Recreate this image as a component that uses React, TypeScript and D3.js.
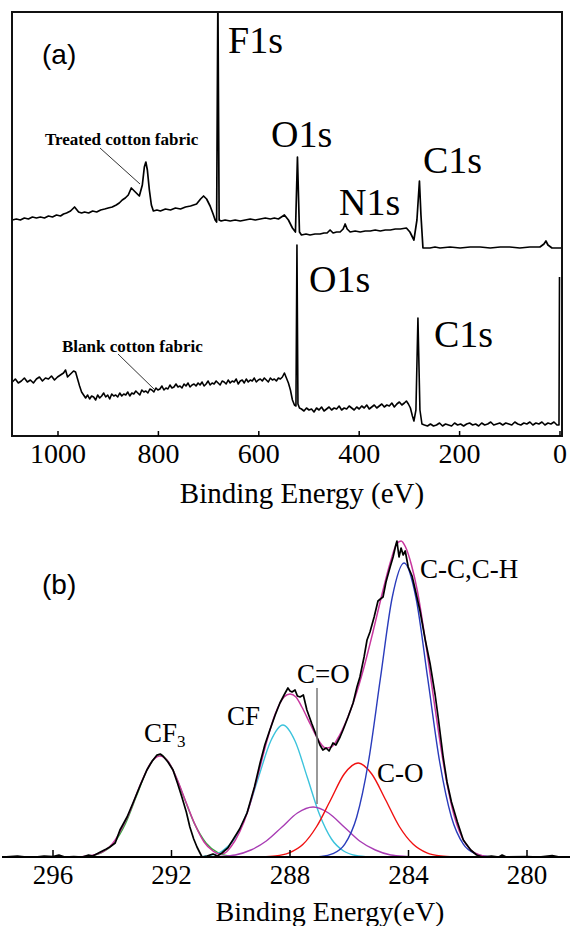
import React from "react";
import * as d3 from "d3";

// survey spectra, [binding energy eV, intensity a.u.]
const treatedSurvey: [number, number][] = [
  [1091, 216], [1083, 217], [1075, 216], [1067, 218], [1059, 217], [1051, 219], [1043, 218],
  [1035, 219], [1027, 218], [1019, 220], [1011, 219], [1003, 221], [995, 220], [989, 222],
  [983, 223], [975, 225], [967, 229], [959, 224], [953, 223], [947, 224], [939, 223],
  [931, 225], [923, 224], [915, 226], [907, 227], [900, 228], [892, 229], [884, 231],
  [878, 233], [872, 236], [866, 238], [860, 241], [854, 248], [846, 244], [838, 240],
  [832, 251], [828, 269], [825, 274], [822, 266], [818, 246], [814, 231], [810, 225],
  [803, 226], [796, 225], [786, 227], [776, 226], [766, 228], [756, 227], [746, 229],
  [736, 230], [724, 232], [716, 237], [710, 240], [704, 237], [697, 230], [691, 222],
  [687, 216], [684, 214], [681.5, 440], [679, 216], [675, 215], [667, 216], [657, 215],
  [647, 216], [637, 215], [627, 216], [617, 217], [607, 216], [597, 217], [587, 218],
  [577, 217], [569, 218], [561, 217], [549, 221], [541, 216], [533, 208], [527, 204],
  [523, 279], [519, 204], [515, 201], [506, 202], [498, 201], [488, 202], [478, 202],
  [470, 203], [464, 203], [458, 206], [452, 203], [445, 204], [438, 204], [432, 207],
  [428, 212], [424, 207], [418, 204], [408, 205], [398, 204], [388, 205], [378, 205],
  [368, 206], [358, 205], [348, 206], [338, 206], [328, 207], [318, 207], [306, 208],
  [299, 204], [291, 196], [285, 216], [280, 255], [277, 221], [273, 188], [259, 188],
  [249, 189], [239, 188], [219, 189], [199, 188], [179, 189], [159, 189], [139, 188],
  [119, 189], [100, 189], [80, 188], [60, 189], [40, 189], [32, 192], [28, 195], [24, 191],
  [16, 188], [4, 188], [-2, 188],
];

const blankSurvey: [number, number][] = [
  [1091, 54], [1085, 57], [1079, 53], [1073, 55], [1067, 58], [1061, 54], [1055, 56],
  [1049, 53], [1043, 57], [1037, 59], [1031, 55], [1025, 58], [1019, 57], [1013, 60],
  [1007, 56], [1001, 59], [995, 61], [989, 63], [985, 66], [981, 59], [977, 61], [973, 63],
  [969, 65], [965, 64], [961, 57], [957, 50], [953, 44], [949, 41], [945, 38], [941, 41],
  [937, 37], [933, 40], [929, 39], [925, 36], [921, 41], [917, 38], [913, 40], [909, 43],
  [905, 39], [901, 41], [897, 37], [893, 42], [889, 40], [885, 41], [881, 39], [877, 43],
  [873, 40], [869, 42], [865, 41], [861, 44], [857, 40], [853, 43], [849, 42], [845, 45],
  [841, 43], [837, 41], [833, 46], [829, 44], [825, 45], [821, 43], [817, 47], [813, 46],
  [809, 44], [805, 48], [801, 46], [797, 47], [793, 50], [789, 46], [785, 48], [781, 47],
  [777, 51], [773, 48], [769, 49], [765, 52], [761, 49], [757, 50], [753, 48], [749, 52],
  [745, 50], [741, 53], [737, 49], [733, 51], [729, 52], [725, 50], [721, 53], [717, 51],
  [713, 54], [709, 50], [705, 52], [701, 55], [697, 51], [693, 53], [689, 52], [685, 55],
  [681, 53], [677, 51], [673, 55], [669, 54], [665, 52], [661, 56], [657, 53], [653, 55],
  [649, 54], [645, 57], [641, 52], [637, 55], [633, 56], [629, 53], [625, 57], [621, 54],
  [617, 56], [613, 55], [609, 58], [605, 54], [601, 56], [597, 57], [593, 55], [589, 58],
  [585, 56], [581, 54], [577, 58], [573, 56], [569, 57], [565, 55], [561, 58], [557, 57],
  [553, 59], [549, 63], [545, 58], [541, 53], [537, 46], [533, 36], [529, 31], [526, 30],
  [524, 191], [522, 32], [519, 28], [515, 27], [510, 25], [505, 28], [500, 26], [495, 27],
  [490, 24], [485, 28], [480, 26], [475, 29], [470, 25], [465, 27], [460, 29], [455, 26],
  [450, 28], [445, 27], [440, 30], [435, 26], [430, 28], [425, 27], [420, 30], [415, 28],
  [410, 26], [405, 29], [400, 27], [395, 30], [390, 28], [385, 31], [380, 27], [375, 29],
  [370, 31], [365, 28], [360, 30], [355, 32], [350, 29], [345, 31], [340, 30], [335, 33],
  [330, 29], [325, 32], [320, 34], [315, 31], [310, 33], [306, 35], [302, 32], [298, 28],
  [294, 20], [291, 15], [287, 26], [283, 118], [279, 26], [275, 12], [270, 11], [264, 10],
  [258, 12], [252, 10], [246, 11], [240, 13], [234, 10], [228, 12], [222, 11], [216, 10],
  [210, 13], [204, 11], [198, 12], [192, 10], [186, 12], [180, 13], [174, 11], [168, 12],
  [162, 10], [156, 13], [150, 11], [144, 12], [138, 14], [132, 11], [126, 12], [120, 13],
  [114, 11], [108, 13], [102, 12], [96, 11], [90, 14], [84, 12], [78, 11], [72, 13],
  [66, 12], [60, 14], [54, 11], [48, 13], [42, 12], [36, 14], [30, 11], [24, 13], [18, 12],
  [12, 14], [6, 11], [2, 11], [1, 159],
];

// C1s high resolution: raw, envelope and fitted components
const c1sRaw: [number, number][] = [
  [297.7, 0], [297.2, 1], [296.9, 0], [296.6, 0], [296.3, 1], [296.0, 0.5], [295.8, 2],
  [295.6, 0], [295.3, 0.5], [295.0, 0], [294.8, 2], [294.66, 1], [294.4, 5], [294.2, 8],
  [294.08, 10], [293.9, 14], [293.74, 27], [293.5, 40], [293.3, 54], [293.05, 72],
  [292.83, 87], [292.65, 96], [292.49, 102], [292.38, 103], [292.29, 101], [292.12, 95],
  [291.95, 87], [291.8, 74], [291.65, 60], [291.5, 45], [291.38, 30], [291.25, 18],
  [291.14, 10], [290.97, 0], [290.8, 1], [290.6, 3], [290.45, 1], [290.3, 4], [290.1, 9],
  [289.93, 17], [289.7, 28], [289.45, 44], [289.2, 70], [289.01, 94], [288.85, 112],
  [288.68, 127], [288.5, 142], [288.34, 154], [288.2, 162], [288.07, 169], [288.0, 166],
  [287.93, 165], [287.83, 167], [287.75, 161], [287.66, 160], [287.55, 162], [287.43, 147],
  [287.26, 133], [287.09, 120], [286.99, 112], [286.89, 107], [286.78, 109], [286.68, 106],
  [286.55, 114], [286.45, 112], [286.31, 120], [286.21, 127], [286.04, 140], [285.87, 154],
  [285.74, 170], [285.64, 180], [285.5, 200], [285.4, 217], [285.3, 225], [285.16, 240],
  [285.03, 256], [284.95, 258], [284.86, 260], [284.76, 275], [284.62, 290], [284.52, 300],
  [284.42, 313], [284.39, 316], [284.32, 300], [284.25, 309], [284.18, 302], [284.11, 306],
  [284.01, 290], [283.88, 281], [283.74, 263], [283.61, 246], [283.44, 218], [283.27, 193],
  [283.1, 162], [283.0, 140], [282.83, 100], [282.7, 75], [282.55, 55], [282.35, 35],
  [282.15, 17], [281.9, 7], [281.7, 2], [281.5, 0], [281.2, 1], [280.95, 0], [280.84, 2],
  [280.7, 0], [280.0, 0.5], [279.6, 0], [279.15, 1.5], [278.9, 0], [278.5, 0],
];

const c1sEnvelope: [number, number][] = [
  [295.0, 0.5], [294.5, 3], [294.0, 13], [293.5, 39], [293.0, 76], [292.7, 94], [292.4, 101],
  [292.1, 95], [291.8, 77], [291.5, 54], [291.2, 32], [290.9, 15], [290.6, 6], [290.4, 3],
  [290.2, 4], [290.0, 10], [289.7, 25], [289.4, 48], [289.1, 80], [288.8, 114], [288.5, 143],
  [288.2, 160], [288.0, 163], [287.8, 160], [287.6, 150], [287.3, 132], [287.0, 115],
  [286.8, 109], [286.6, 110], [286.4, 118], [286.1, 136], [285.8, 160], [285.5, 190],
  [285.2, 225], [284.9, 262], [284.6, 296], [284.4, 313], [284.25, 316], [284.1, 310],
  [283.9, 292], [283.7, 266], [283.4, 210], [283.1, 148], [282.8, 90], [282.5, 46],
  [282.2, 20], [281.9, 7], [281.6, 2], [281.3, 0],
];

const cf3Fit: [number, number][] = [
  [295.12, 0.2], [294.73, 1.1], [294.34, 4.5], [293.95, 13.8], [293.56, 33.1], [293.17, 61.9],
  [292.78, 90], [292.39, 102], [292.0, 90], [291.61, 61.9], [291.22, 33.1], [290.83, 13.8],
  [290.44, 4.5], [290.05, 1.1], [289.66, 0.2],
];
const cfFit: [number, number][] = [
  [291.1, 0], [290.7, 1.5], [290.29, 6], [289.88, 18], [289.47, 43], [289.06, 80],
  [288.65, 116], [288.24, 132], [287.83, 116], [287.42, 80], [287.01, 43], [286.6, 18],
  [286.19, 6], [285.78, 1.5], [285.3, 0],
];
const coDoubleFit: [number, number][] = [
  [290.9, 0], [290.37, 0.6], [289.85, 2], [289.32, 7], [288.8, 16], [288.27, 30],
  [287.75, 44], [287.22, 50], [286.7, 44], [286.17, 30], [285.65, 16], [285.12, 7],
  [284.6, 2], [284.07, 0.6], [283.5, 0],
];
const coSingleFit: [number, number][] = [
  [288.96, 0.2], [288.49, 1], [288.03, 4.1], [287.56, 12.7], [287.1, 30.5], [286.63, 57],
  [286.17, 83], [285.7, 94], [285.24, 83], [284.77, 57], [284.31, 30.5], [283.84, 12.7],
  [283.38, 4.1], [282.91, 1], [282.45, 0.2],
];
const ccFit: [number, number][] = [
  [287.35, 0.1], [286.95, 0.6], [286.55, 3.3], [286.15, 12.9], [285.75, 39.8], [285.35, 95.5],
  [284.95, 178.3], [284.55, 259.5], [284.15, 294], [283.75, 259.5], [283.35, 178.3],
  [282.95, 95.5], [282.55, 39.8], [282.15, 12.9], [281.75, 3.3], [281.35, 0.6], [280.95, 0.1],
];

const surveyTicks = [1000, 800, 600, 400, 200, 0];
const c1sTicks = [296, 292, 288, 284, 280];

const serif = "Liberation Serif";
const sans = "Liberation Sans";

export default function App() {
  // panel (a)
  const xA = d3.scaleLinear().domain([1000, 0]).range([58, 560]);
  const yA = d3.scaleLinear().domain([0, 424]).range([436, 12]);
  const lineA = d3.line<[number, number]>().x((d) => xA(d[0])).y((d) => yA(d[1]));

  // panel (b)
  const xB = d3.scaleLinear().domain([296, 280]).range([53, 527]);
  const yB = d3.scaleLinear().domain([0, 320]).range([857, 537]);
  const rawB = d3.line<[number, number]>().x((d) => xB(d[0])).y((d) => yB(d[1]));
  const smoothB = d3
    .line<[number, number]>()
    .x((d) => xB(d[0]))
    .y((d) => yB(d[1]))
    .curve(d3.curveMonotoneX);

  const fits = [
    { data: cf3Fit, color: "#2fae3a" },
    { data: cfFit, color: "#3cc3dc" },
    { data: coDoubleFit, color: "#a83cb4" },
    { data: coSingleFit, color: "#f01010" },
    { data: ccFit, color: "#2a3cbc" },
  ];

  return (
    <svg
      width={570}
      height={926}
      fontFamily={serif}
      style={{ position: "absolute", left: 0, top: 0, background: "#fff" }}
    >
      <defs>
        <clipPath id="clipA">
          <rect x={12} y={12} width={550} height={424} />
        </clipPath>
      </defs>

      {/* ---------- (a) survey ---------- */}
      <g clipPath="url(#clipA)" fill="none" stroke="#000" strokeLinejoin="round">
        <path d={lineA(treatedSurvey) ?? ""} strokeWidth={1.7} />
        <path d={lineA(blankSurvey) ?? ""} strokeWidth={1.6} />
      </g>
      <rect x={12} y={12} width={550} height={424} fill="none" stroke="#111" strokeWidth={2} />
      {surveyTicks.map((t) => (
        <g key={t}>
          <line x1={xA(t)} x2={xA(t)} y1={436} y2={431} stroke="#000" strokeWidth={1.5} />
          <text x={xA(t)} y={463} textAnchor="middle" fontFamily={serif} fontSize={28}>
            {t}
          </text>
        </g>
      ))}
      <text x={302} y={503} textAnchor="middle" fontFamily={serif} fontSize={29}>
        Binding Energy (eV)
      </text>
      <text x={42} y={64} fontFamily={sans} fontSize={28}>(a)</text>
      <g fontFamily={serif} fontSize={38}>
        <text x={228} y={53}>F1s</text>
        <text x={271} y={147}>O1s</text>
        <text x={339} y={215}>N1s</text>
        <text x={423} y={173}>C1s</text>
        <text x={309} y={292}>O1s</text>
        <text x={434} y={347}>C1s</text>
      </g>
      <g fontFamily={serif} fontSize={17} fontWeight="bold">
        <text x={45} y={145}>Treated cotton fabric</text>
        <text x={62} y={352}>Blank cotton fabric</text>
      </g>
      <line x1={100} y1={148} x2={140} y2={184} stroke="#333" strokeWidth={1} />
      <line x1={118} y1={354} x2={155} y2={390} stroke="#333" strokeWidth={1} />

      {/* ---------- (b) C1s ---------- */}
      <text x={42} y={594} fontFamily={sans} fontSize={28}>(b)</text>
      <g fill="none" strokeWidth={1.4}>
        {fits.map((f, i) => (
          <path key={i} d={smoothB(f.data) ?? ""} stroke={f.color} />
        ))}
        <path d={smoothB(c1sEnvelope) ?? ""} stroke="#c8369e" strokeWidth={1.5} />
        <path d={rawB(c1sRaw) ?? ""} stroke="#000" strokeWidth={1.7} strokeLinejoin="round" />
      </g>
      <line x1={2} x2={570} y1={857} y2={857} stroke="#000" strokeWidth={2.2} />
      {c1sTicks.map((t) => (
        <g key={t}>
          <line x1={xB(t)} x2={xB(t)} y1={857} y2={850} stroke="#000" strokeWidth={1.5} />
          <text x={xB(t)} y={884} textAnchor="middle" fontFamily={serif} fontSize={27}>
            {t}
          </text>
        </g>
      ))}
      <text x={330} y={921} textAnchor="middle" fontFamily={serif} fontSize={28}>
        Binding Energy(eV)
      </text>
      <line x1={317} x2={317} y1={688} y2={804} stroke="#777" strokeWidth={1.5} />
      <g fontFamily={serif} fontSize={27}>
        <text x={144} y={742}>
          CF<tspan fontSize={17} dy={5}>3</tspan>
        </text>
        <text x={227} y={725}>CF</text>
        <text x={297} y={683}>C=O</text>
        <text x={377} y={782}>C-O</text>
        <text x={420} y={578}>C-C,C-H</text>
      </g>
    </svg>
  );
}
